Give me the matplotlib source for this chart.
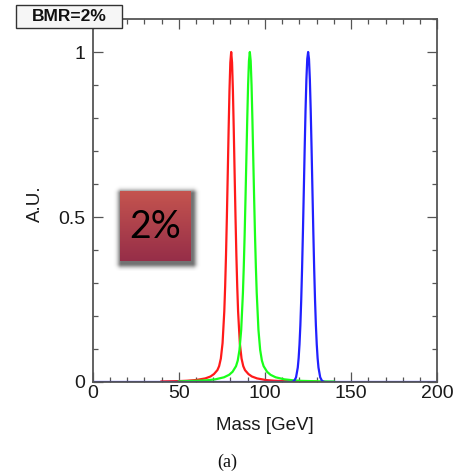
import numpy as np
import matplotlib
matplotlib.use("Agg")
from matplotlib import pyplot as plt
from matplotlib.patches import Rectangle
from matplotlib.ticker import MultipleLocator

plt.rcParams["font.family"] = ["Liberation Sans", "DejaVu Sans"]

# red curve (W-like peak)
mass_red = [40, 50, 55, 60, 65.4, 68.4, 70.4, 72.4, 73.4, 74.4, 75.4, 76.4, 76.9, 77.4, 77.9,
            78.4, 78.9, 79.4, 79.9, 80.4, 80.9, 81.4, 81.9, 82.4, 82.9, 83.4, 83.9, 84.4,
            85.4, 86.4, 87.4, 88.4, 90.4, 92.4, 95.4, 100.4, 105.4, 110.4, 120, 130]
au_red = [0.0016, 0.0027, 0.0039, 0.0060, 0.0109, 0.0167, 0.024, 0.036, 0.048, 0.071, 0.118,
          0.214, 0.290, 0.385, 0.500, 0.629, 0.762, 0.882, 0.968, 1.0, 0.968, 0.882, 0.762,
          0.629, 0.500, 0.385, 0.290, 0.214, 0.118, 0.071, 0.048, 0.036, 0.024, 0.0167,
          0.0109, 0.0060, 0.0039, 0.0027, 0.0016, 0.0010]

# green curve (Z-like peak)
mass_green = [50, 60, 66.2, 71.2, 76.2, 79.2, 81.2, 83.2, 84.2, 85.2, 86.2, 87.2, 87.7, 88.2,
              88.7, 89.2, 89.7, 90.2, 90.7, 91.2, 91.7, 92.2, 92.7, 93.2, 93.7, 94.2, 94.7,
              95.2, 96.2, 97.2, 98.2, 99.2, 101.2, 103.2, 106.2, 111.2, 116.2, 121.2, 132.4, 140]
au_green = [0.0019, 0.0034, 0.0052, 0.0081, 0.0142, 0.0218, 0.031, 0.048, 0.065, 0.097, 0.158,
            0.270, 0.350, 0.446, 0.557, 0.676, 0.795, 0.900, 0.973, 1.0, 0.973, 0.900, 0.795,
            0.676, 0.557, 0.446, 0.350, 0.270, 0.158, 0.097, 0.065, 0.048, 0.031, 0.0218,
            0.0142, 0.0081, 0.0052, 0.0034, 0.0019, 0.0014]

# blue curve (H-like peak)
mass_blue = [0, 100, 110, 115, 116, 117, 118, 119, 119.5, 120, 120.5, 121, 121.5, 122, 122.5,
             123, 123.5, 124, 124.5, 125, 125.5, 126, 126.5, 127, 127.5, 128, 128.5, 129,
             129.5, 130, 130.5, 131, 132, 133, 134, 135, 140, 150, 200]
au_blue = [0, 0, 0, 0, 0.0009, 0.0039, 0.0142, 0.0439, 0.0724, 0.114, 0.172, 0.249, 0.345,
           0.458, 0.581, 0.707, 0.823, 0.917, 0.979, 1.0, 0.979, 0.917, 0.823, 0.707, 0.581,
           0.458, 0.345, 0.249, 0.172, 0.114, 0.0724, 0.0439, 0.0142, 0.0039, 0.0009, 0, 0, 0, 0]

x_ticks = [0, 50, 100, 150, 200]
y_ticks = [0, 0.5, 1]

W, H = 455, 476
fig = plt.figure(figsize=(W / 100, H / 100), dpi=100)
ax = fig.add_axes([92.5 / W, 1 - 382 / H, 345 / W, 363 / H])

ax.plot(mass_red, au_red, color="#ff1a1a", lw=1.6)
ax.plot(mass_green, au_green, color="#1aff1a", lw=1.6)
ax.plot(mass_blue, au_blue, color="#2020ff", lw=1.6)

ax.set_xlim(0, 200)
ax.set_ylim(0, 1.1)
ax.set_xticks(x_ticks)
ax.set_xticklabels([str(t) for t in x_ticks])
ax.set_yticks(y_ticks)
ax.set_yticklabels(["0", "0.5", "1"])
ax.xaxis.set_minor_locator(MultipleLocator(10))
ax.yaxis.set_minor_locator(MultipleLocator(0.1))
ax.tick_params(which="both", direction="in", top=True, right=True, color="#555555", width=0.9,
               labelsize=14, labelcolor="#1a1a1a")
ax.tick_params(which="major", length=7.5)
ax.tick_params(which="minor", length=3.8)
ax.tick_params(axis="x", pad=2)
ax.tick_params(axis="y", pad=5)
for s in ax.spines.values():
    s.set_color("#555555")
    s.set_linewidth(1.3)

ax.set_xlabel("Mass [GeV]", fontsize=13.5, color="#1a1a1a")
ax.set_ylabel("A.U.", fontsize=13.5, color="#1a1a1a")
ax.xaxis.set_label_coords(0.5, -0.096)
ax.yaxis.set_label_coords(-0.14, 0.49)

# "BMR=2%" title box
fig.patches.append(Rectangle((16 / W, 1 - 28 / H), 106 / W, 23 / H, transform=fig.transFigure,
                             facecolor="#f6f6f6", edgecolor="#333333", lw=1.0, zorder=5))
fig.text(69 / W, 1 - 16.5 / H, "BMR=2%", ha="center", va="center", fontsize=12.5,
         fontweight="bold", color="#111111", zorder=6)

# red "2%" badge with soft shadow
m = 10
bx0, by0, bw, bh = 120, 191, 71, 70
bax = fig.add_axes([(bx0 - m) / W, 1 - (by0 + bh + m) / H, (bw + 2 * m) / W, (bh + 2 * m) / H])
bax.axis("off")
nh, nw = bh + 2 * m, bw + 2 * m
yy, xx = np.mgrid[0:nh, 0:nw]
dx = np.maximum(np.maximum(m + 1 - xx, xx - (m + bw + 1)), 0)
dy = np.maximum(np.maximum(m + 2 - yy, yy - (m + bh + 2)), 0)
dist = np.hypot(dx, dy)
img = np.zeros((nh, nw, 4))
img[..., 3] = 0.55 * np.exp(-(dist / 4.0) ** 2)
top_c = np.array([196, 84, 79]) / 255
bot_c = np.array([150, 46, 72]) / 255
t = np.linspace(0, 1, bh)[:, None]
img[m:m + bh, m:m + bw, :3] = top_c * (1 - t[..., None]) + bot_c * t[..., None]
img[m:m + bh, m:m + bw, 3] = 1
bax.imshow(img, interpolation="bilinear", aspect="auto")
fig.text((bx0 + bw / 2) / W, 1 - (by0 + bh / 2 + 1) / H, "2%", ha="center", va="center",
         fontsize=27, family=["Lato", "DejaVu Sans"], color="#000000")

fig.text(227 / W, 1 - 462 / H, "(a)", ha="center", va="center", fontsize=13,
         family=["Liberation Serif", "DejaVu Serif"], color="#111111")

fig.savefig("out.png", dpi=100)
